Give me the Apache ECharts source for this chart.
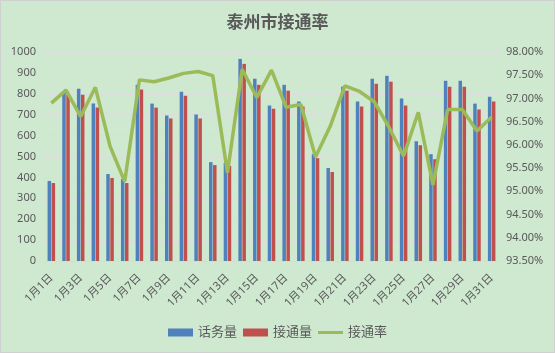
<!DOCTYPE html>
<html>
<head>
<meta charset="utf-8">
<script src="https://cdn.jsdelivr.net/npm/echarts@6/dist/echarts.min.js"></script>
<style>
html,body{margin:0;padding:0;background:#cfe8d0;}
#c{width:555px;height:353px;box-sizing:border-box;border:1px solid #d0d0d0;}
</style>
</head>
<body>
<div id="c"></div>
<script>
const categories = ['1月1日','1月2日','1月3日','1月4日','1月5日','1月6日','1月7日','1月8日','1月9日','1月10日','1月11日','1月12日','1月13日','1月14日','1月15日','1月16日','1月17日','1月18日','1月19日','1月20日','1月21日','1月22日','1月23日','1月24日','1月25日','1月26日','1月27日','1月28日','1月29日','1月30日','1月31日'];
const callVolume = [383,810,824,753,416,392,843,753,696,810,701,473,470,967,872,744,843,763,511,445,834,763,872,886,777,573,511,862,862,753,786];
const connected = [373,795,796,734,397,373,820,734,682,791,682,459,455,943,843,729,815,739,492,426,815,739,848,858,744,554,487,834,834,725,763];
const connectRate = [96.90,97.18,96.61,97.24,95.97,95.21,97.40,97.36,97.44,97.54,97.58,97.49,95.40,97.63,97.02,97.61,96.81,96.87,95.74,96.40,97.27,97.15,96.93,96.38,95.76,96.70,95.14,96.76,96.76,96.30,96.60];
const leftTicks = {min:0, max:1000, interval:100};
const rightTicks = {min:93.5, max:98, interval:0.5};

const font = '"Noto Sans","Noto Sans CJK SC",sans-serif';
const chart = echarts.init(document.getElementById('c'));
chart.setOption({
  backgroundColor:'#cfe8d0',
  textStyle:{fontFamily:font},
  title:{text:'泰州市接通率',left:'center',top:9,textStyle:{fontSize:17,fontWeight:'bold',color:'#595959',fontFamily:font}},
  legend:{bottom:8,left:'center',itemWidth:25,itemHeight:8,itemGap:6,
    textStyle:{fontSize:13,color:'#595959',fontFamily:font},
    data:[{name:'话务量',icon:'rect'},{name:'接通量',icon:'rect'},
      {name:'接通率',icon:'path://M0,0L25,0L25,3L0,3Z',itemStyle:{color:'#9bbb59'}}]},
  grid:{left:43,right:55,top:51,bottom:91,containLabel:false},
  xAxis:{type:'category',data:categories,boundaryGap:true,
    axisLine:{lineStyle:{color:'#d9d9d9'}},
    axisTick:{interval:1,length:4,lineStyle:{color:'#d9d9d9'}},
    axisLabel:{interval:1,rotate:45,fontSize:11,color:'#595959',margin:15}},
  yAxis:[
    {type:'value',min:leftTicks.min,max:leftTicks.max,interval:leftTicks.interval,
      axisLine:{show:false},axisTick:{show:false},
      axisLabel:{fontSize:11,color:'#595959',margin:8,formatter:v=>String(v)},
      splitLine:{lineStyle:{color:'#dcdcdc'}}},
    {type:'value',min:rightTicks.min,max:rightTicks.max,interval:rightTicks.interval,
      axisLine:{show:false},axisTick:{show:false},
      axisLabel:{fontSize:11,color:'#595959',margin:7,formatter:v=>v.toFixed(2)+'%'},
      splitLine:{show:false}}
  ],
  series:[
    {name:'话务量',type:'bar',data:callVolume,barWidth:3.5,barGap:'15%',itemStyle:{color:'#4f81bd'}},
    {name:'接通量',type:'bar',data:connected,barWidth:3.5,itemStyle:{color:'#c0504d'}},
    {name:'接通率',type:'line',yAxisIndex:1,data:connectRate,showSymbol:false,symbol:'none',
      lineStyle:{color:'#9bbb59',width:3.5},itemStyle:{color:'#9bbb59'}}
  ]
});
</script>
</body>
</html>
